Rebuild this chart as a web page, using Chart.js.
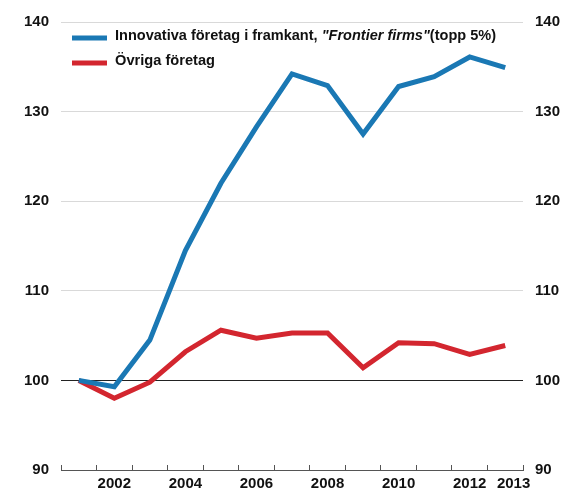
<!DOCTYPE html>
<html>
<head>
<meta charset="utf-8">
<script src="https://cdn.jsdelivr.net/npm/chart.js@4"></script>
<style>
  html, body { margin: 0; padding: 0; background: #ffffff; }
  #wrap { width: 563px; height: 493px; }
</style>
</head>
<body>
<div id="wrap"><canvas id="chart" width="563" height="493"></canvas></div>
<script>
// Index values, 2001 = 100
const years = ['2001', '2002', '2003', '2004', '2005', '2006', '2007', '2008', '2009', '2010', '2011', '2012', '2013'];
const frontierFirms = [100.0, 99.3, 104.5, 114.5, 122.0, 128.3, 134.2, 132.9, 127.5, 132.8, 133.9, 136.1, 134.9];
const otherFirms = [100.0, 98.0, 99.8, 103.2, 105.6, 104.7, 105.3, 105.3, 101.4, 104.2, 104.1, 102.9, 103.9];
const yTicks = [90, 100, 110, 120, 130, 140];
const labelledYears = ['2002', '2004', '2006', '2008', '2010', '2012', '2013'];

const BLUE = '#1a78b4';
const RED = '#d3262f';
const FONT = 'Liberation Sans, Arial, Helvetica, sans-serif';

// Legend drawn inside the plot, with the italic "Frontier firms" part
const insideLegend = {
  id: 'insideLegend',
  afterDraw(chart) {
    const ctx = chart.ctx;
    ctx.save();
    ctx.lineCap = 'butt';
    ctx.lineWidth = 5;
    const rows = [
      { color: BLUE, y: 38, parts: [
        { t: 'Innovativa företag i framkant, ', italic: false },
        { t: '"Frontier firms"', italic: true },
        { t: '(topp 5%)', italic: false }
      ], width: 381 },
      { color: RED, y: 63, parts: [ { t: 'Övriga företag', italic: false } ], width: 100 }
    ];
    rows.forEach(row => {
      ctx.strokeStyle = row.color;
      ctx.beginPath();
      ctx.moveTo(72, row.y);
      ctx.lineTo(107, row.y);
      ctx.stroke();

      const fontFor = p => (p.italic ? 'italic ' : '') + 'bold 15px ' + FONT;
      let total = 0;
      row.parts.forEach(p => { ctx.font = fontFor(p); total += ctx.measureText(p.t).width; });
      const sx = Math.min(1, row.width / total);
      ctx.save();
      ctx.translate(115, row.y - 2);
      ctx.scale(sx, 1);
      ctx.fillStyle = '#111111';
      ctx.textBaseline = 'middle';
      ctx.textAlign = 'left';
      let x = 0;
      row.parts.forEach(p => {
        ctx.font = fontFor(p);
        ctx.fillText(p.t, x, 0);
        x += ctx.measureText(p.t).width;
      });
      ctx.restore();
    });
    ctx.restore();
  }
};

const tickFont = { family: FONT, size: 15, weight: 'bold' };

new Chart(document.getElementById('chart'), {
  type: 'line',
  data: {
    labels: years,
    datasets: [
      { label: 'Innovativa företag i framkant, "Frontier firms"(topp 5%)', data: frontierFirms, borderColor: BLUE, backgroundColor: BLUE, yAxisID: 'y' },
      { label: 'Övriga företag', data: otherFirms, borderColor: RED, backgroundColor: RED, yAxisID: 'y' }
    ]
  },
  options: {
    responsive: false,
    animation: false,
    devicePixelRatio: 1,
    layout: { padding: { top: 22, left: 0, right: 0, bottom: 0 } },
    plugins: { legend: { display: false }, tooltip: { enabled: false }, title: { display: false } },
    elements: {
      point: { radius: 0, hoverRadius: 0 },
      line: { borderWidth: 5, tension: 0, borderJoinStyle: 'miter', borderCapStyle: 'butt', fill: false }
    },
    scales: {
      x: {
        type: 'category',
        offset: true,
        grid: { offset: true, drawOnChartArea: false, drawTicks: true, tickLength: -5, color: '#555555', lineWidth: 1 },
        border: { display: true, color: '#555555', width: 1 },
        ticks: {
          autoSkip: false, maxRotation: 0, minRotation: 0, padding: 10, color: '#111111', font: tickFont,
          callback(value, index, ticks) {
            const l = this.getLabelForValue(value);
            if (!labelledYears.includes(l)) return '';
            // last year label nudged right, clear of its neighbour
            return index === ticks.length - 1 ? '    ' + l : l;
          }
        },
        afterFit(scale) { scale.height = 23; }
      },
      y: {
        position: 'left',
        min: 90, max: 140,
        afterBuildTicks(scale) { scale.ticks = yTicks.map(v => ({ value: v })); },
        grid: {
          drawTicks: false,
          lineWidth: 1,
          color(ctx) {
            const v = ctx.tick ? ctx.tick.value : null;
            if (v === 90) return 'rgba(0,0,0,0)';
            if (v === 100) return '#222222';
            return '#d9d9d9';
          }
        },
        border: { display: false },
        ticks: { padding: 12, color: '#111111', font: tickFont },
        afterFit(scale) { scale.width = 61; }
      },
      y2: {
        position: 'right',
        min: 90, max: 140,
        afterBuildTicks(scale) { scale.ticks = yTicks.map(v => ({ value: v })); },
        grid: { drawOnChartArea: false, drawTicks: false },
        border: { display: false },
        ticks: { padding: 12, color: '#111111', font: tickFont },
        afterFit(scale) { scale.width = 40; }
      }
    }
  },
  plugins: [insideLegend]
});
</script>
</body>
</html>
